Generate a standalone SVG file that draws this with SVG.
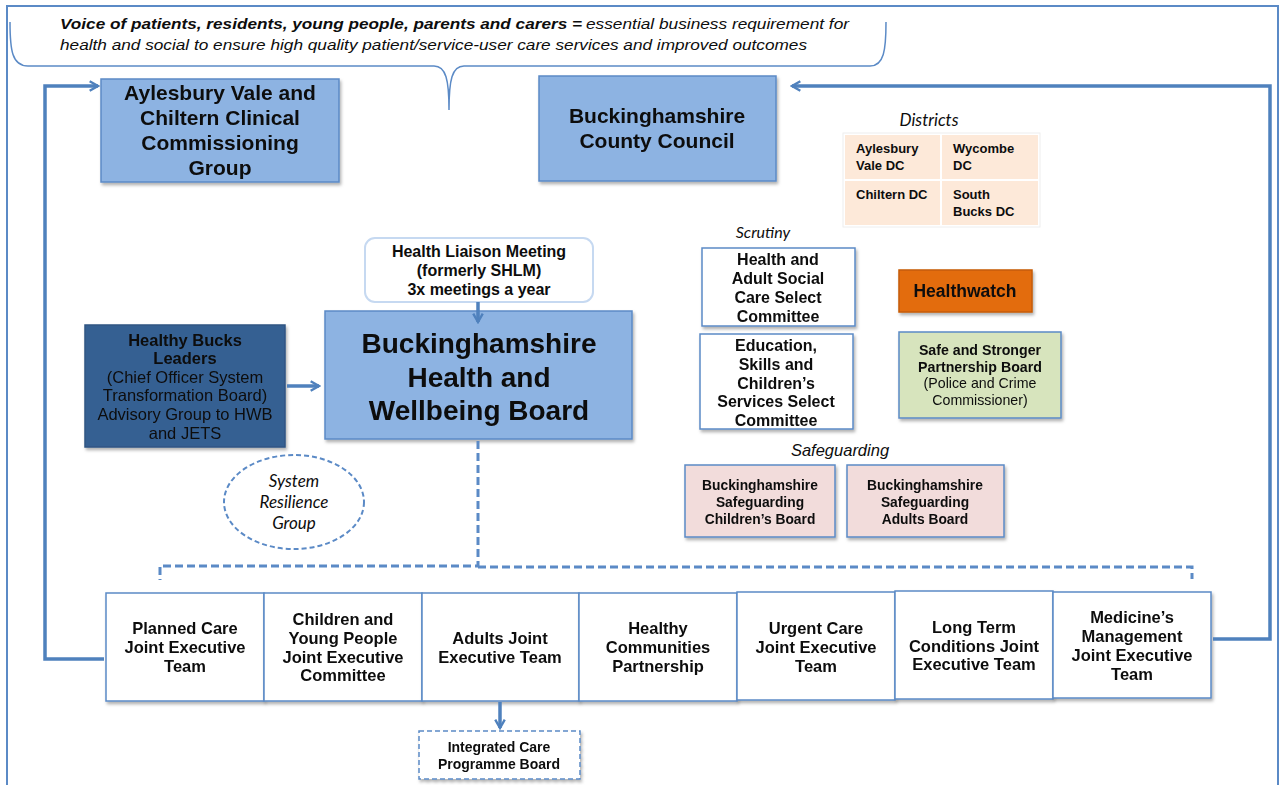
<svg xmlns="http://www.w3.org/2000/svg" width="1281" height="785" viewBox="0 0 1281 785">
  <defs>
    <style>
      .bg { fill: #ffffff; }
      .frame { fill: none; stroke: #5b8ac6; stroke-width: 2; }
      .brace { fill: none; stroke: #5b8ac6; stroke-width: 1.5; }
      .lb { fill: #8db3e2; stroke: #5b8ac6; stroke-width: 1.5; }
      .wb { fill: #ffffff; stroke: #5b8ac6; stroke-width: 1.5; }
      .db { fill: #366092; stroke: #2f5583; stroke-width: 1.5; }
      .ob { fill: #e36c09; stroke: #c55a07; stroke-width: 1.5; }
      .gb { fill: #d7e4bd; stroke: #5b8ac6; stroke-width: 1.5; }
      .pb { fill: #f2dcdb; stroke: #5b8ac6; stroke-width: 1.5; }
      .dc { fill: #fde9d9; }
      .hlm { fill: #ffffff; stroke: #c6d9f1; stroke-width: 2; }
      .dash { fill: none; stroke: #5b8ac6; stroke-width: 3; stroke-dasharray: 8 4; }
      .dashthin { fill: none; stroke: #5b8ac6; stroke-width: 1.5; stroke-dasharray: 5 3; }
      .arrow { fill: none; stroke: #4f81bd; stroke-width: 3.5; marker-end: url(#chev); }
      text { font-family: "Liberation Sans", Arial, sans-serif; fill: #0d0d0d; text-anchor: middle; }
      .b { font-weight: bold; }
      .cal { font-family: Lato, "Open Sans", sans-serif; }
      .it { font-style: italic; }
      .t15 { font-size: 16.5px; font-weight: bold; }
    </style>
    <marker id="chev" viewBox="0 0 10 10" refX="8" refY="5" markerWidth="3.4" markerHeight="3.4" orient="auto" markerUnits="strokeWidth">
      <path d="M1,1 L8,5 L1,9" fill="none" stroke="#4f81bd" stroke-width="2"/>
    </marker>
    <filter id="sh" x="-10%" y="-10%" width="125%" height="130%">
      <feDropShadow dx="1.5" dy="2.5" stdDeviation="1.5" flood-color="#000000" flood-opacity="0.3"/>
    </filter>
  </defs>

  <rect class="bg" x="0" y="0" width="1281" height="785"/>
  <rect class="frame" x="7" y="6" width="1271" height="820"/>

  <!-- Header statement with its brace -->
  <g id="voice">
    <path class="brace" d="M10,22 C10,50 12,66 28,66 L434,66 C446,66 449,80 449,110 C449,80 452,66 464,66 L870,66 C884,66 886,50 886,22"/>
    <text x="60" y="29" style="text-anchor:start;font-size:15px" class="it"><tspan class="b" textLength="522" lengthAdjust="spacingAndGlyphs">Voice of patients, residents, young people, parents and carers =</tspan><tspan dx="4" textLength="263" lengthAdjust="spacingAndGlyphs">essential business requirement for</tspan></text>
    <text x="60" y="50" style="text-anchor:start;font-size:15px" class="it" textLength="747" lengthAdjust="spacingAndGlyphs">health and social to ensure high quality patient/service-user care services and improved outcomes</text>
  </g>

  <g id="ccg" filter="url(#sh)">
    <rect class="lb" x="101" y="79" width="238" height="103"/>
    <text class="b" style="font-size:21px" x="220" y="100">Aylesbury  Vale and</text>
    <text class="b" style="font-size:21px" x="220" y="125">Chiltern Clinical</text>
    <text class="b" style="font-size:21px" x="220" y="150">Commissioning</text>
    <text class="b" style="font-size:21px" x="220" y="175">Group</text>
  </g>

  <g id="bcc" filter="url(#sh)">
    <rect class="lb" x="539" y="76" width="237" height="105"/>
    <text class="b" style="font-size:21px" x="657" y="123">Buckinghamshire</text>
    <text class="b" style="font-size:21px" x="657" y="148">County Council</text>
  </g>

  <g id="districts">
    <text class="cal it" style="font-size:17px" x="929" y="126">Districts</text>
    <rect x="843" y="133" width="197" height="94" fill="#ffffff" stroke="#eeeeee" stroke-width="1"/>
    <rect class="dc" x="845" y="135" width="95" height="44"/>
    <rect class="dc" x="942" y="135" width="96" height="44"/>
    <rect class="dc" x="845" y="181" width="95" height="44"/>
    <rect class="dc" x="942" y="181" width="96" height="44"/>
    <g class="cal b" style="font-size:13px">
      <text x="856" y="153" style="text-anchor:start">Aylesbury</text>
      <text x="856" y="170" style="text-anchor:start">Vale DC</text>
      <text x="953" y="153" style="text-anchor:start">Wycombe</text>
      <text x="953" y="170" style="text-anchor:start">DC</text>
      <text x="856" y="199" style="text-anchor:start">Chiltern DC</text>
      <text x="953" y="199" style="text-anchor:start">South</text>
      <text x="953" y="216" style="text-anchor:start">Bucks DC</text>
    </g>
  </g>

  <g id="hlm">
    <rect class="hlm" x="365" y="238" width="228" height="64" rx="10"/>
    <text class="b" style="font-size:16px" x="479" y="257">Health Liaison Meeting</text>
    <text class="b" style="font-size:16px" x="479" y="276">(formerly SHLM)</text>
    <text class="b" style="font-size:16px" x="479" y="295">3x meetings a year</text>
  </g>

  <g id="hwb" filter="url(#sh)">
    <rect class="lb" x="325" y="311" width="307" height="128"/>
    <text class="b" style="font-size:28px" x="479" y="353">Buckinghamshire</text>
    <text class="b" style="font-size:28px" x="479" y="387">Health and</text>
    <text class="b" style="font-size:28px" x="479" y="420">Wellbeing Board</text>
  </g>

  <g id="healthy-bucks" filter="url(#sh)">
    <rect class="db" x="85" y="325" width="200" height="122"/>
    <text class="b" style="font-size:16.5px" x="185" y="346">Healthy Bucks</text>
    <text class="b" style="font-size:16.5px" x="185" y="364">Leaders</text>
    <text style="font-size:16.5px" x="185" y="383">(Chief Officer System</text>
    <text style="font-size:16.5px" x="185" y="401">Transformation Board)</text>
    <text style="font-size:16.5px" x="185" y="420">Advisory Group to HWB</text>
    <text style="font-size:16.5px" x="185" y="439">and JETS</text>
  </g>

  <g id="system-resilience">
    <ellipse class="dashthin" style="stroke-width:2" cx="294" cy="502" rx="70" ry="47"/>
    <text class="cal it" style="font-size:17px" x="294" y="487">System</text>
    <text class="cal it" style="font-size:17px" x="294" y="508">Resilience</text>
    <text class="cal it" style="font-size:17px" x="294" y="529">Group</text>
  </g>

  <g id="scrutiny">
    <text class="cal it" style="font-size:16px" x="763" y="238">Scrutiny</text>
  </g>

  <g id="hasc" filter="url(#sh)">
    <rect class="wb" x="702" y="248" width="153" height="78"/>
    <text class="b" style="font-size:16px" x="778" y="265">Health and</text>
    <text class="b" style="font-size:16px" x="778" y="284">Adult Social</text>
    <text class="b" style="font-size:16px" x="778" y="303">Care Select</text>
    <text class="b" style="font-size:16px" x="778" y="322">Committee</text>
  </g>

  <g id="escs" filter="url(#sh)">
    <rect class="wb" x="700" y="334" width="153" height="95"/>
    <text class="b" style="font-size:16px" x="776" y="351">Education,</text>
    <text class="b" style="font-size:16px" x="776" y="370">Skills and</text>
    <text class="b" style="font-size:16px" x="776" y="389">Children’s</text>
    <text class="b" style="font-size:16px" x="776" y="407">Services Select</text>
    <text class="b" style="font-size:16px" x="776" y="426">Committee</text>
  </g>

  <g id="healthwatch" filter="url(#sh)">
    <rect class="ob" x="899" y="270" width="133" height="42"/>
    <text class="b" style="font-size:17.5px" x="965" y="297">Healthwatch</text>
  </g>

  <g id="safer" filter="url(#sh)">
    <rect class="gb" x="899" y="332" width="162" height="86"/>
    <text class="b" style="font-size:14.2px" x="980" y="355">Safe and Stronger</text>
    <text class="b" style="font-size:14.2px" x="980" y="372">Partnership Board</text>
    <text style="font-size:14.2px" x="980" y="388">(Police and Crime</text>
    <text style="font-size:14.2px" x="980" y="405">Commissioner)</text>
  </g>

  <g id="safeguarding">
    <text class="it" style="font-size:16.5px" x="840" y="456">Safeguarding</text>
  </g>

  <g id="bscb" filter="url(#sh)">
    <rect class="pb" x="685" y="465" width="150" height="72"/>
    <text class="b" style="font-size:13.8px" x="760" y="490">Buckinghamshire</text>
    <text class="b" style="font-size:13.8px" x="760" y="507">Safeguarding</text>
    <text class="b" style="font-size:13.8px" x="760" y="524">Children’s Board</text>
  </g>

  <g id="bsab" filter="url(#sh)">
    <rect class="pb" x="847" y="465" width="157" height="72"/>
    <text class="b" style="font-size:13.8px" x="925" y="490">Buckinghamshire</text>
    <text class="b" style="font-size:13.8px" x="925" y="507">Safeguarding</text>
    <text class="b" style="font-size:13.8px" x="925" y="524">Adults  Board</text>
  </g>

  <g id="planned-care" filter="url(#sh)">
    <rect class="wb" x="106" y="593" width="158" height="108"/>
    <text class="t15" x="185" y="634">Planned Care</text>
    <text class="t15" x="185" y="653">Joint Executive</text>
    <text class="t15" x="185" y="672">Team</text>
  </g>

  <g id="cyp" filter="url(#sh)">
    <rect class="wb" x="264" y="593" width="158" height="108"/>
    <text class="t15" x="343" y="625">Children and</text>
    <text class="t15" x="343" y="644">Young People</text>
    <text class="t15" x="343" y="663">Joint Executive</text>
    <text class="t15" x="343" y="681">Committee</text>
  </g>

  <g id="adults" filter="url(#sh)">
    <rect class="wb" x="422" y="593" width="157" height="108"/>
    <text class="t15" x="500" y="644">Adults Joint</text>
    <text class="t15" x="500" y="663">Executive Team</text>
  </g>

  <g id="healthy-communities" filter="url(#sh)">
    <rect class="wb" x="579" y="593" width="158" height="108"/>
    <text class="t15" x="658" y="634">Healthy</text>
    <text class="t15" x="658" y="653">Communities</text>
    <text class="t15" x="658" y="672">Partnership</text>
  </g>

  <g id="urgent-care" filter="url(#sh)">
    <rect class="wb" x="737" y="592" width="158" height="108"/>
    <text class="t15" x="816" y="634">Urgent Care</text>
    <text class="t15" x="816" y="653">Joint Executive</text>
    <text class="t15" x="816" y="672">Team</text>
  </g>

  <g id="long-term" filter="url(#sh)">
    <rect class="wb" x="895" y="591" width="158" height="108"/>
    <text class="t15" x="974" y="633">Long Term</text>
    <text class="t15" x="974" y="652">Conditions Joint</text>
    <text class="t15" x="974" y="670">Executive Team</text>
  </g>

  <g id="medicines" filter="url(#sh)">
    <rect class="wb" x="1053" y="592" width="158" height="106"/>
    <text class="t15" x="1132" y="623">Medicine’s</text>
    <text class="t15" x="1132" y="642">Management</text>
    <text class="t15" x="1132" y="661">Joint Executive</text>
    <text class="t15" x="1132" y="680">Team</text>
  </g>

  <g id="icpb" filter="url(#sh)">
    <rect class="dashthin" style="fill:#ffffff" x="419" y="731" width="161" height="48"/>
    <text class="b" style="font-size:14px" x="499" y="752">Integrated Care</text>
    <text class="b" style="font-size:14px" x="499" y="769">Programme  Board</text>
  </g>

  <!-- Connectors, drawn last so arrowheads sit over the boxes they reach -->
  <g id="connectors">
    <polyline class="arrow" points="104,659 45,659 45,86 98,86"/>
    <polyline class="arrow" points="1213,639 1270,639 1270,86 792,86"/>
    <line class="arrow" x1="478" y1="302" x2="478" y2="322"/>
    <line class="arrow" x1="287" y1="386" x2="319" y2="386"/>
    <line class="arrow" x1="500" y1="702" x2="500" y2="728"/>
    <polyline class="dash" points="478,441 478,566 160,566 160,580"/>
    <polyline class="dash" points="478,567 1192,567 1192,579"/>
  </g>
</svg>
